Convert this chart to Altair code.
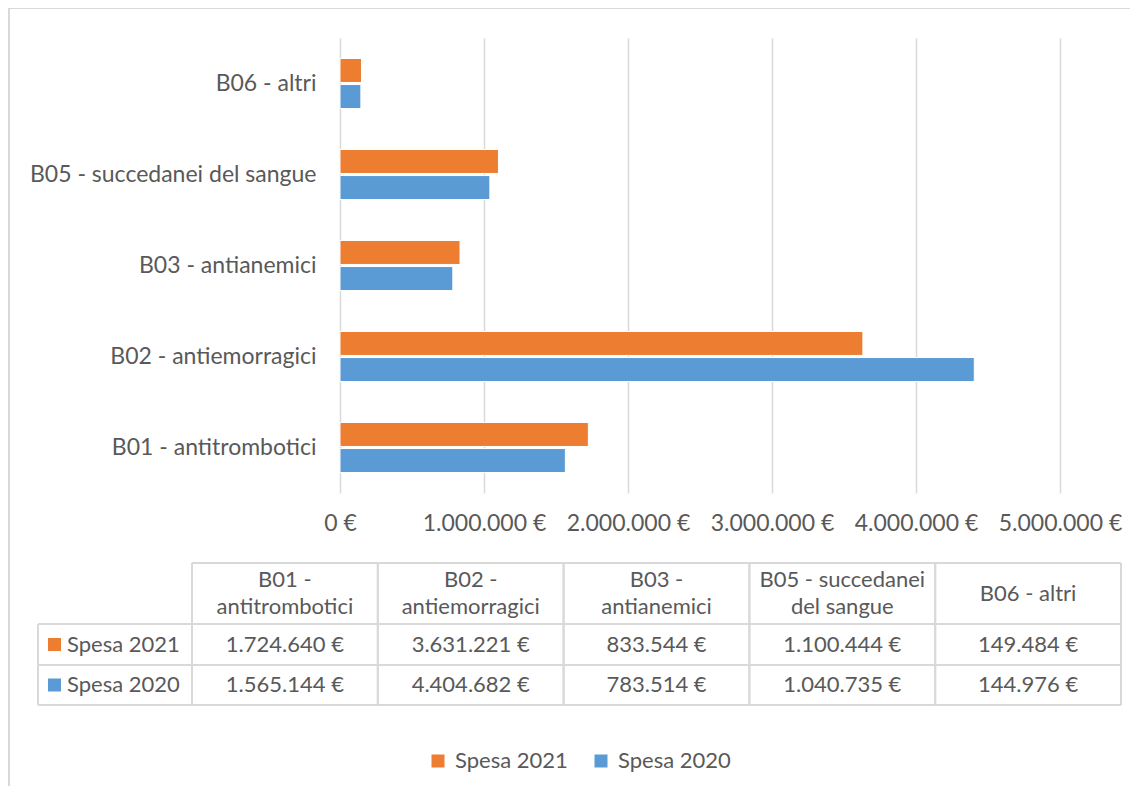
import altair as alt
import pandas as pd

categories = ["B01 - antitrombotici", "B02 - antiemorragici", "B03 - antianemici",
              "B05 - succedanei del sangue", "B06 - altri"]
header_line1 = ["B01 -", "B02 -", "B03 -", "B05 - succedanei", "B06 - altri"]
header_line2 = ["antitrombotici", "antiemorragici", "antianemici", "del sangue", ""]
series_names = ["Spesa 2021", "Spesa 2020"]
spesa_2021 = [1724640, 3631221, 833544, 1100444, 149484]
spesa_2020 = [1565144, 4404682, 783514, 1040735, 144976]
x_ticks = [0, 1000000, 2000000, 3000000, 4000000, 5000000]

colors = ["#ED7D31", "#5B9BD5"]
GRID = "#D9D9D9"
TXT = "#595959"
FONT = "Lato"


def euro(v):
    return f"{v:,}".replace(",", ".") + " €"


rows = []
for i, c in enumerate(categories):
    for s, vals in zip(series_names, [spesa_2021, spesa_2020]):
        rows.append({"cat": c, "series": s, "value": vals[i], "label": euro(vals[i])})
df = pd.DataFrame(rows)
hdr = pd.DataFrame({"cat": categories, "l1": header_line1, "l2": header_line2})
ser = pd.DataFrame({"series": series_names})

color = alt.Color("series:N", scale=alt.Scale(domain=series_names, range=colors),
                  legend=alt.Legend(title=None, orient="none", direction="horizontal",
                                    legendX=87, legendY=712, symbolType="square",
                                    symbolSize=169, symbolStrokeWidth=0,
                                    labelFont=FONT, labelFontSize=22, labelColor=TXT,
                                    labelOffset=6, columnPadding=22, padding=0))

y_order = list(reversed(categories))

bars = alt.Chart(df).mark_bar(stroke="white", strokeWidth=1).encode(
    x=alt.X("value:Q", scale=alt.Scale(domain=[0, 5000000], nice=False),
            axis=alt.Axis(title=None, values=x_ticks, grid=True, gridColor=GRID,
                          gridWidth=1.5, domain=False, ticks=False, labelPadding=19,
                          labelOverlap=False, labelFlush=False,
                          labelFont=FONT, labelFontSize=23, labelColor=TXT,
                          labelExpr="replace(format(datum.value, ',d'), /,/g, '.') + ' €'")),
    y=alt.Y("cat:N", sort=y_order,
            scale=alt.Scale(domain=y_order, paddingInner=0.45, paddingOuter=0.225),
            axis=alt.Axis(title=None, domain=False, ticks=False, labelPadding=24,
                          labelFont=FONT, labelFontSize=23, labelColor=TXT, labelLimit=400)),
    yOffset=alt.YOffset("series:N", scale=alt.Scale(domain=series_names, paddingInner=0.08)),
    color=color,
)

# outer frame (only left and top edges are visible in the crop)
frame_top = alt.Chart(ser).mark_rule(color=GRID, strokeWidth=2).encode(
    x=alt.value(-331), x2=alt.value(792), y=alt.value(-30))
frame_left = alt.Chart(ser).mark_rule(color=GRID, strokeWidth=2).encode(
    x=alt.value(-331), y=alt.value(-30), y2=alt.value(750))

# table lines
col_left = -148
col_right = 781
ncol = len(categories)
colw = (col_right - col_left) / ncol
y_top, y_h, y_r, y_b = 525, 586, 627, 667
line_layers = []
for (xa, xb, yy) in [(col_left, col_right, y_top), (-302, col_right, y_h),
                     (-302, col_right, y_r), (-302, col_right, y_b)]:
    line_layers.append(alt.Chart(ser).mark_rule(color=GRID, strokeWidth=2).encode(
        x=alt.value(xa), x2=alt.value(xb), y=alt.value(yy)))
line_layers.append(alt.Chart(ser).mark_rule(color=GRID, strokeWidth=2).encode(
    x=alt.value(-302), y=alt.value(y_h), y2=alt.value(y_b)))
for k in range(ncol + 1):
    line_layers.append(alt.Chart(ser).mark_rule(color=GRID, strokeWidth=2).encode(
        x=alt.value(col_left + k * colw), y=alt.value(y_top), y2=alt.value(y_b)))

tx = alt.X("cat:N", scale=alt.Scale(type="band", domain=categories, range=[col_left, col_right],
                                    paddingInner=0, paddingOuter=0), axis=None)
ty = alt.Y("series:N", scale=alt.Scale(type="point", domain=series_names,
                                       range=[(y_h + y_r) / 2, (y_r + y_b) / 2], padding=0),
           axis=None)

hc = (y_top + y_h) / 2
lh = 27
htext = dict(font=FONT, fontSize=22, color=TXT, baseline="middle")
header_l1 = alt.Chart(hdr).transform_filter("datum.l2 != ''").mark_text(**htext).encode(
    x=tx, y=alt.value(hc - lh / 2), text="l1:N")
header_l2 = alt.Chart(hdr).transform_filter("datum.l2 != ''").mark_text(**htext).encode(
    x=tx, y=alt.value(hc + lh / 2), text="l2:N")
header_single = alt.Chart(hdr).transform_filter("datum.l2 == ''").mark_text(**htext).encode(
    x=tx, y=alt.value(hc), text="l1:N")

value_text = alt.Chart(df).mark_text(font=FONT, fontSize=22, color=TXT, baseline="middle").encode(
    x=tx, y=ty, text="label:N")

row_sq = alt.Chart(ser).mark_point(shape="square", filled=True, size=169, opacity=1).encode(
    x=alt.value(-285.5), y=ty, color=color)

row_text = alt.Chart(ser).mark_text(font=FONT, fontSize=22, color=TXT, align="left",
                                    baseline="middle").encode(
    x=alt.value(-273), y=ty, text="series:N")

chart = alt.layer(frame_top, frame_left, bars, *line_layers, header_l1, header_l2, header_single,
                  value_text, row_sq, row_text).resolve_scale(
    x="independent", y="independent"
).properties(
    width=720, height=455,
    padding={"left": 332, "top": 30, "right": 70, "bottom": 293},
    autosize=alt.AutoSizeParams(type="none"),
).configure_view(stroke=None)

chart.save("out.html", embed_options={"renderer": "svg", "actions": False})
